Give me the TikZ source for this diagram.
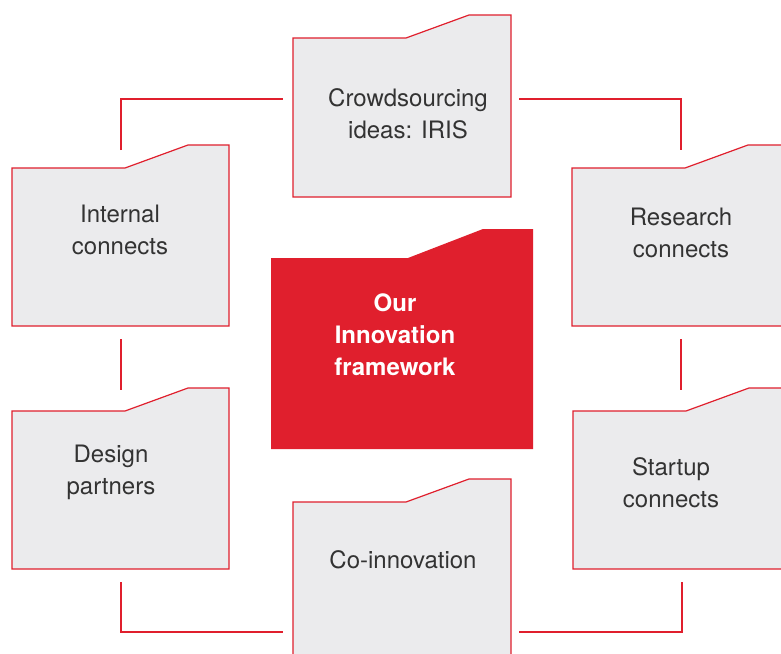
\documentclass[tikz,border=0pt]{standalone}
\usepackage{fontspec}
\setmainfont{TeX Gyre Heros}
\definecolor{brandred}{HTML}{E01F2D}
\definecolor{foldergray}{HTML}{EBEBED}
\definecolor{labelgray}{HTML}{333333}
\newcommand\folderpath[5]{%
  \draw[#5] (#1,#4) -- (#1,#3) -- (#1+113,#3) -- (#1+176,#3-23) -- (#2,#3-23) -- (#2,#4) -- cycle;}
\begin{document}
\begin{tikzpicture}[x=1pt,y=-1pt,
  folderbox/.style={draw=brandred, fill=foldergray, line width=1.2pt, line join=miter},
  lbl/.style={align=center, inner sep=0pt, text=labelgray, font=\fontsize{24}{32}\selectfont},
  centerlbl/.style={align=center, inner sep=0pt, text=white, font=\bfseries\fontsize{24}{32}\selectfont},
  link/.style={draw=brandred, line width=2.5pt}]
\clip (0,0) rectangle (781,653);
\fill[white] (0,0) rectangle (781,653);

% folders
\folderpath{293}{511}{38}{197}{folderbox}
\folderpath{12}{229}{168}{326}{folderbox}
\folderpath{572}{800}{168}{326}{folderbox}
\folderpath{12}{229}{411}{569}{folderbox}
\folderpath{573}{800}{411}{569}{folderbox}
\folderpath{293}{511}{502}{680}{folderbox}
\fill[brandred] (271,449) -- (271,258) -- (408,258) -- (483,229) -- (533,229) -- (533,449) -- cycle;

% labels
\node[lbl] (crowd) at (408,114) {Crowdsourcing\\ideas: IRIS};
\node[lbl] (internal) at (120,230) {Internal\\connects};
\node[lbl] (research) at (681,233) {Research\\connects};
\node[centerlbl] (core) at (395,335) {Our\\Innovation\\framework};
\node[lbl] (design) at (111,472) {Design\\partners};
\node[lbl] (startup) at (671,483) {Startup\\connects};
\node[lbl] (coinno) at (403,560) {Co-innovation};

% connector end points
\coordinate (a1) at (121,150); \coordinate (a2) at (121,99); \coordinate (a3) at (283,99);
\coordinate (b1) at (519,99); \coordinate (b2) at (681,99); \coordinate (b3) at (681,150);
\coordinate (c1) at (121,339); \coordinate (c2) at (121,390);
\coordinate (d1) at (681,339); \coordinate (d2) at (681,390);
\coordinate (e1) at (121,582); \coordinate (e2) at (121,632); \coordinate (e3) at (283,632);
\coordinate (f1) at (519,632); \coordinate (f2) at (682,632); \coordinate (f3) at (682,582);

\draw[link] (a1) -- (a2) -- (a3);
\draw[link] (b1) -- (b2) -- (b3);
\draw[link] (c1) -- (c2);
\draw[link] (d1) -- (d2);
\draw[link] (e1) -- (e2) -- (e3);
\draw[link] (f1) -- (f2) -- (f3);
\end{tikzpicture}
\end{document}
